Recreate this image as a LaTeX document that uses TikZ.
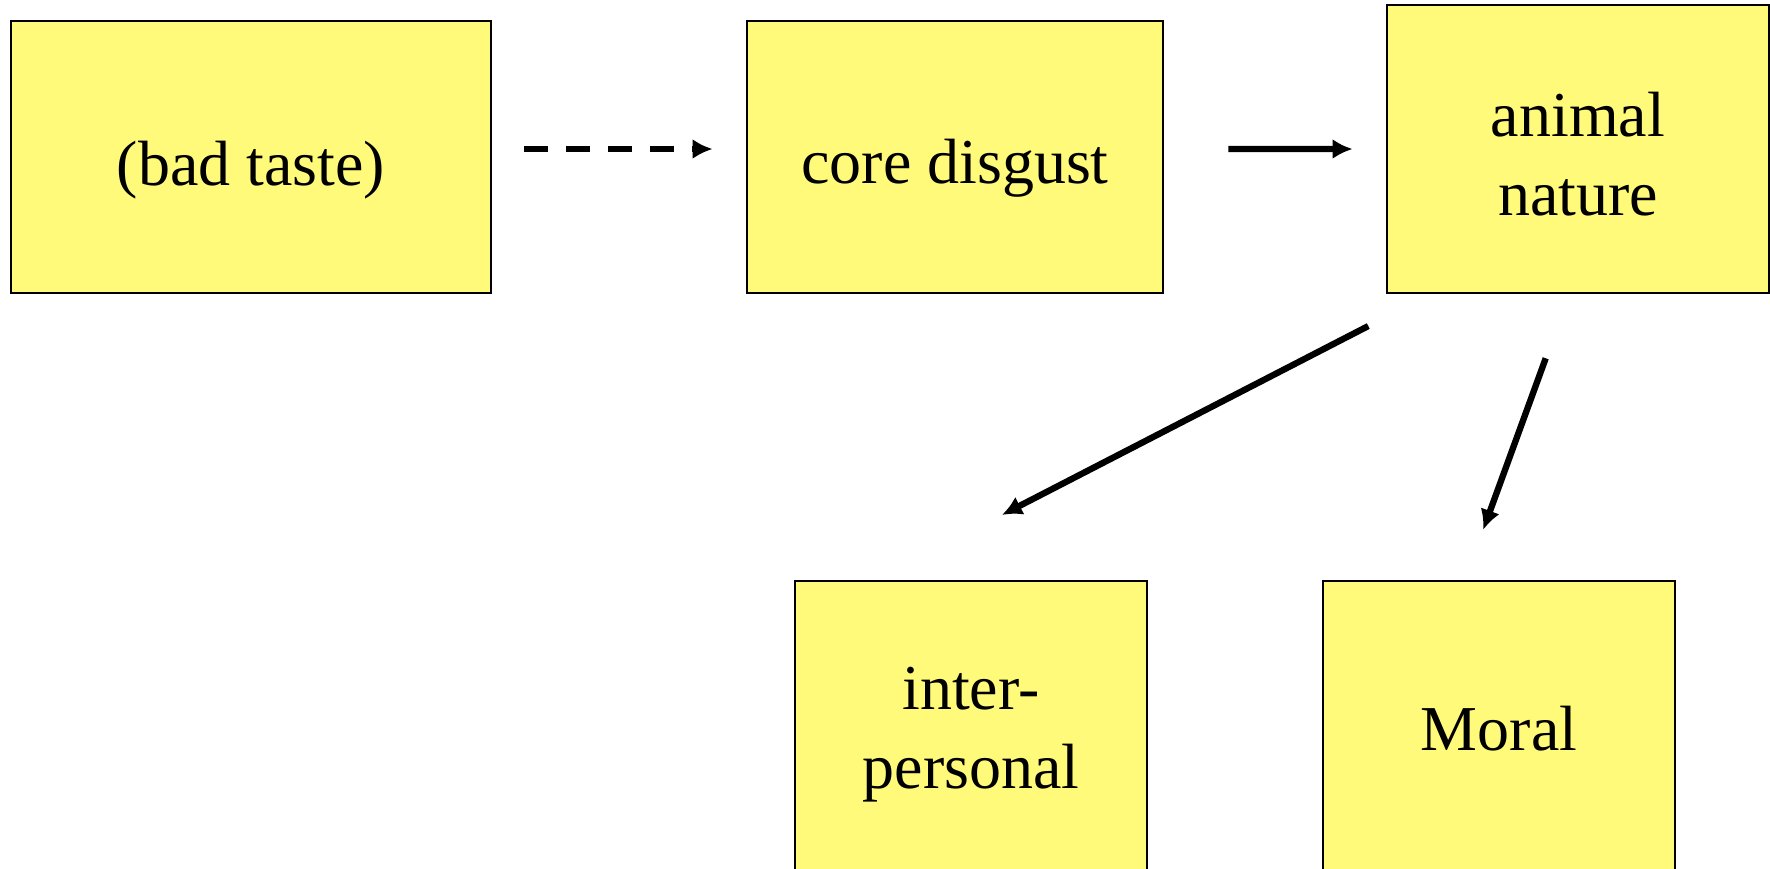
\documentclass[tikz,border=0pt]{standalone}
\usepackage{fontspec}
\setmainfont{Liberation Serif}
\usetikzlibrary{arrows.meta}
\definecolor{cardyellow}{RGB}{255,250,122}
\newcommand{\cardtext}[2]{\raisebox{#1}[\height][\depth]{#2}}
\tikzset{
  card/.style={rectangle, draw, fill=cardyellow, line width=0.8pt, align=center,
    inner sep=0pt, font=\fontsize{18.2}{22.5}\selectfont},
  link/.style={->, line width=1.8pt},
}

\begin{document}
\begin{tikzpicture}[>={Latex[length=0.2cm,width=0.2cm]}] % solid triangle heads
  \useasboundingbox (0,0) rectangle (17.70,-8.68);

  \node[card, minimum width=4.80cm, minimum height=2.72cm](taste) at (2.51,-1.57) {\cardtext{-0.13cm}{(bad taste)}};
  \node[card, minimum width=4.16cm, minimum height=2.72cm](core) at (9.55,-1.57) {\cardtext{-0.11cm}{core disgust}};
  \node[card, minimum width=3.82cm, minimum height=2.88cm](animal) at (15.78,-1.49) {\cardtext{-0.05cm}{animal}\\\cardtext{-0.05cm}{nature}};
  \node[card, minimum width=3.52cm, minimum height=3.08cm](interp) at (9.71,-7.35) {inter-\\personal};
  \node[card, minimum width=3.52cm, minimum height=3.08cm](moral) at (14.99,-7.35) {\cardtext{0.06cm}{Moral}};

  \draw[link, dash pattern=on 0.24cm off 0.18cm, shorten <=0.32cm, shorten >=0.33cm]
    ([yshift=0.08cm]taste.east) -- ([yshift=0.08cm]core.west);
  \draw[link, shorten <=0.64cm, shorten >=0.33cm] ([yshift=0.08cm]core.east) -- (animal.west);
  \draw[link, shorten <=0.69cm, shorten >=1.41cm]
    ([xshift=0.44cm]animal.south west) -- ([xshift=0.83cm]interp.north west);
  \draw[link, shorten <=0.68cm, shorten >=0.53cm]
    ([xshift=-0.09cm]animal.south) -- ([xshift=-0.34cm]moral.north);

\end{tikzpicture}
\end{document}
